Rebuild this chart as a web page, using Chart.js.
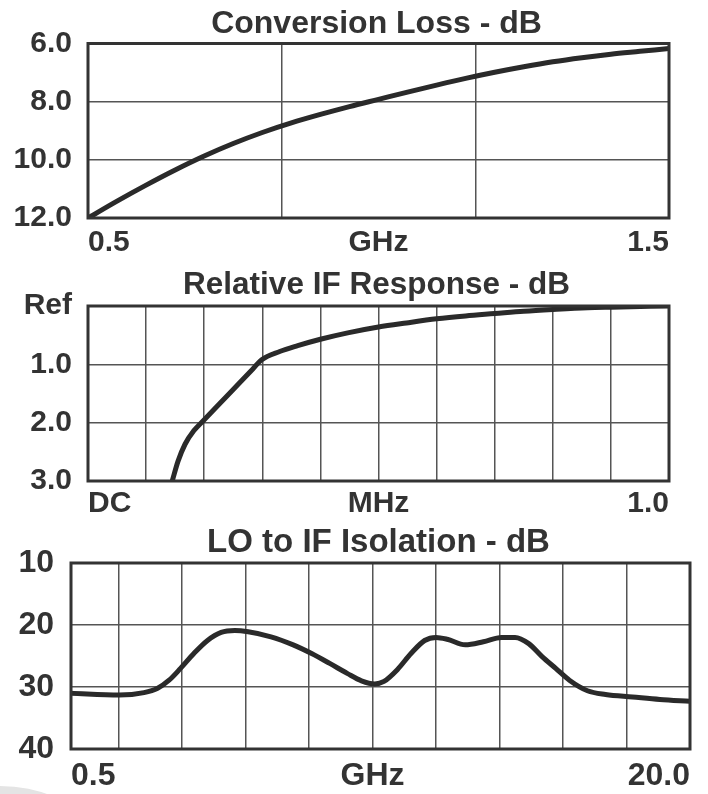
<!DOCTYPE html>
<html>
<head>
<meta charset="utf-8">
<script src="https://cdn.jsdelivr.net/npm/chart.js@4.4.1/dist/chart.umd.min.js"></script>
<style>
    body { margin: 0; background: #fff; width: 708px; height: 794px; overflow: hidden; position: relative; }
    .box { position: absolute; left: 0; width: 708px; }
    .corner { position: absolute; left: -145px; top: 786px; width: 290px; height: 290px; border-radius: 50%; background: #e4e4e4; }
</style>
</head>
<body>
<div class="box" style="top:0;height:262px"><canvas id="lossChart" width="708" height="262"></canvas></div>
<div class="box" style="top:262px;height:262px"><canvas id="ifChart" width="708" height="262"></canvas></div>
<div class="box" style="top:524px;height:270px"><canvas id="isoChart" width="708" height="270"></canvas></div>
<div class="corner"></div>
<script>
// Conversion loss vs LO/RF frequency (GHz)
const lossFreq = [0.50, 0.55, 0.60, 0.65, 0.70, 0.75, 0.80, 0.85, 0.90, 0.95, 1.00, 1.05, 1.10, 1.15, 1.20, 1.25, 1.30, 1.35, 1.40, 1.45, 1.50];
const lossDb = [12.0, 11.42, 10.87, 10.35, 9.87, 9.44, 9.06, 8.73, 8.44, 8.17, 7.92, 7.67, 7.43, 7.2, 6.99, 6.8, 6.63, 6.49, 6.37, 6.27, 6.17];
const lossXTicks = [0.5, 0.8333, 1.0, 1.1667, 1.5];
const lossXLabels = ['0.5', '', 'GHz', '', '1.5'];
const lossYTicks = [6, 8, 10, 12];
const lossYLabels = ['6.0', '8.0', '10.0', '12.0'];

// Relative IF response vs IF frequency (MHz)
const ifFreq = [0.145, 0.155, 0.167, 0.182, 0.198, 0.221, 0.252, 0.28, 0.299, 0.33, 0.361, 0.40, 0.447, 0.50, 0.548, 0.60, 0.65, 0.70, 0.75, 0.80, 0.86, 0.90, 1.00];
const ifDb = [3.0, 2.66, 2.37, 2.14, 1.97, 1.73, 1.41, 1.12, 0.92, 0.78, 0.68, 0.57, 0.46, 0.36, 0.29, 0.22, 0.17, 0.13, 0.09, 0.06, 0.03, 0.02, 0.0];
const ifXTicks = [0, 0.1, 0.2, 0.3, 0.4, 0.5, 0.6, 0.7, 0.8, 0.9, 1.0];
const ifXLabels = ['DC', '', '', '', '', 'MHz', '', '', '', '', '1.0'];
const ifYTicks = [0, 1, 2, 3];
const ifYLabels = ['Ref', '1.0', '2.0', '3.0'];

// LO to IF isolation vs frequency (GHz)
const isoFreq = [0.5, 2.02, 2.8, 3.23, 3.59, 3.95, 4.37, 4.8, 5.23, 5.66, 6.08, 6.8, 7.5, 8.08, 8.65, 9.2, 9.65, 10.07, 10.36, 10.78, 11.21, 11.64, 12.0, 12.35, 12.92, 13.49, 14.06, 14.49, 14.92, 15.34, 15.77, 16.2, 16.77, 17.34, 18.19, 19.05, 20.0];
const isoDb = [31.0, 31.3, 30.9, 30.2, 28.9, 27.0, 24.6, 22.5, 21.2, 20.9, 21.1, 21.9, 23.2, 24.6, 26.2, 27.8, 29.0, 29.5, 29.1, 27.2, 24.6, 22.5, 22.0, 22.3, 23.2, 22.7, 22.0, 22.0, 23.0, 25.1, 27.0, 28.9, 30.6, 31.2, 31.6, 32.0, 32.3];
const isoXTicks = [0.5, 2, 4, 6, 8, 10, 12, 14, 16, 18, 20];
const isoXLabels = ['0.5', '', '', '', '', 'GHz', '', '', '', '', '20.0'];
const isoYTicks = [10, 20, 30, 40];
const isoYLabels = ['10', '20', '30', '40'];

const textColor = '#333';
const fontFamily = '"Liberation Sans", Arial, sans-serif';

// title over the plot area and heavy frame round it
const framePlugin = {
    id: 'frame',
    afterDatasetsDraw(chart, args, opts) {
        const a = chart.chartArea;
        const ctx = chart.ctx;
        ctx.save();
        ctx.strokeStyle = '#333';
        ctx.lineWidth = 3;
        ctx.strokeRect(a.left, a.top, a.right - a.left, a.bottom - a.top);
        ctx.fillStyle = textColor;
        ctx.font = 'bold ' + opts.size + 'px ' + fontFamily;
        ctx.textAlign = 'center';
        ctx.textBaseline = 'alphabetic';
        ctx.fillText(opts.text, (a.left + a.right) / 2 - 2, opts.baseline);
        ctx.restore();
    }
};

function makeChart(id, cfg) {
    const points = cfg.xs.map((x, i) => ({ x: x, y: cfg.ys[i] }));
    const ctx = document.getElementById(id).getContext('2d');
    return new Chart(ctx, {
        type: 'line',
        data: {
            datasets: [{
                data: points,
                borderColor: '#2a2a2a',
                borderWidth: 5,
                pointRadius: 0,
                cubicInterpolationMode: 'monotone',
                fill: false
            }]
        },
        options: {
            responsive: false,
            animation: false,
            devicePixelRatio: 1,
            layout: { padding: { top: cfg.padTop, right: cfg.padRight, left: 0, bottom: 0 } },
            plugins: {
                legend: { display: false },
                tooltip: { enabled: false },
                frame: { text: cfg.title, size: cfg.titleSize, baseline: cfg.titleBase }
            },
            scales: {
                x: {
                    type: 'linear',
                    min: cfg.xTicks[0],
                    max: cfg.xTicks[cfg.xTicks.length - 1],
                    afterBuildTicks: s => { s.ticks = cfg.xTicks.map(v => ({ value: v })); },
                    afterFit: s => { s.height = cfg.xHeight; },
                    border: { display: false },
                    grid: {
                        drawTicks: false,
                        lineWidth: 1.5,
                        color: c => (cfg.noGrid !== undefined && c.tick && Math.abs(c.tick.value - cfg.noGrid) < 1e-6) ? 'rgba(0,0,0,0)' : '#555'
                    },
                    ticks: {
                        autoSkip: false,
                        maxRotation: 0,
                        align: 'inner',
                        padding: cfg.xPad,
                        color: textColor,
                        font: { family: fontFamily, size: cfg.tickSize, weight: 'bold' },
                        callback: (v, i) => cfg.xLabels[i]
                    }
                },
                y: {
                    type: 'linear',
                    reverse: true,
                    min: cfg.yTicks[0],
                    max: cfg.yTicks[cfg.yTicks.length - 1],
                    afterBuildTicks: s => { s.ticks = cfg.yTicks.map(v => ({ value: v })); },
                    afterFit: s => { s.width = cfg.yWidth; },
                    border: { display: false },
                    grid: { drawTicks: false, lineWidth: 1.5, color: '#555' },
                    ticks: {
                        padding: cfg.yPad,
                        color: textColor,
                        font: { family: fontFamily, size: cfg.tickSize, weight: 'bold' },
                        callback: (v, i) => cfg.yLabels[i]
                    }
                }
            }
        },
        plugins: [framePlugin]
    });
}

makeChart('lossChart', {
    xs: lossFreq, ys: lossDb, xTicks: lossXTicks, xLabels: lossXLabels, yTicks: lossYTicks, yLabels: lossYLabels,
    noGrid: 1.0, title: 'Conversion Loss - dB', titleSize: 32, titleBase: 33, tickSize: 30,
    padTop: 43.5, padRight: 39, xHeight: 44, yWidth: 88, xPad: 7, yPad: 16
});

makeChart('ifChart', {
    xs: ifFreq, ys: ifDb, xTicks: ifXTicks, xLabels: ifXLabels, yTicks: ifYTicks, yLabels: ifYLabels,
    title: 'Relative IF Response - dB', titleSize: 31.5, titleBase: 32, tickSize: 30,
    padTop: 44, padRight: 39, xHeight: 43, yWidth: 88, xPad: 5, yPad: 16
});

makeChart('isoChart', {
    xs: isoFreq, ys: isoDb, xTicks: isoXTicks, xLabels: isoXLabels, yTicks: isoYTicks, yLabels: isoYLabels,
    title: 'LO to IF Isolation - dB', titleSize: 33, titleBase: 28, tickSize: 32,
    padTop: 39, padRight: 18, xHeight: 45, yWidth: 71, xPad: 8, yPad: 17
});
</script>
</body>
</html>
